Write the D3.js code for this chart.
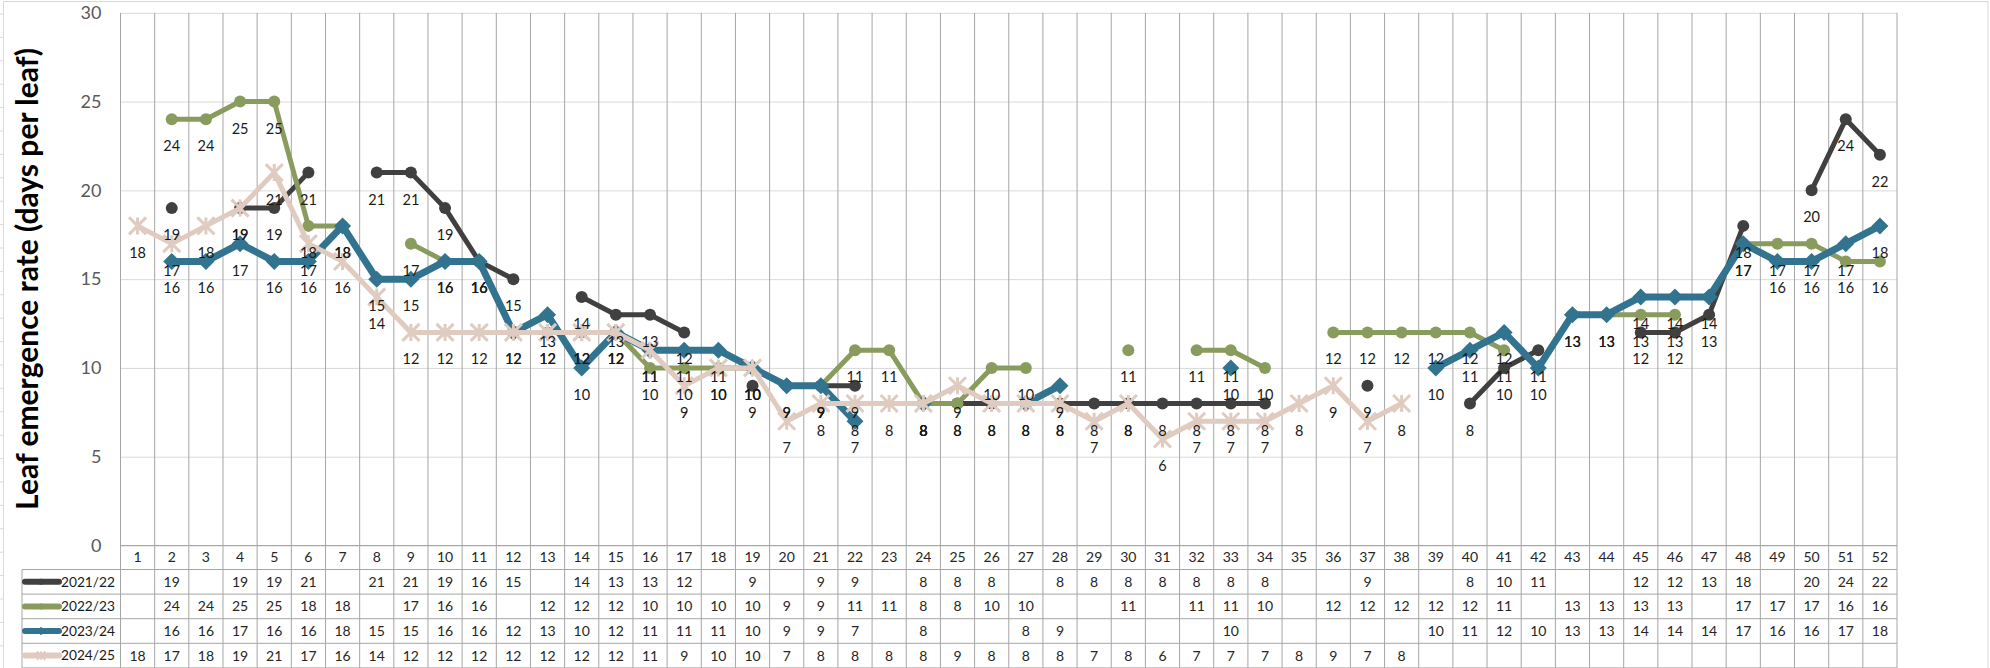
<!DOCTYPE html>
<html>
<head>
<meta charset="utf-8">
<script src="https://cdn.jsdelivr.net/npm/d3@7/dist/d3.min.js"></script>
<style>
  html, body { margin: 0; padding: 0; background: #fff; }
  svg { display: block; }
  text { font-family: Lato, "Open Sans", "Liberation Sans", sans-serif; }
</style>
</head>
<body>
<svg id="chart" width="1990" height="668"></svg>
<script>
// ---------------- DATA ----------------
const weeks = d3.range(1, 53);
const seriesNames = ["2021/22", "2022/23", "2023/24", "2024/25"];
const yTicks = [0, 5, 10, 15, 20, 25, 30];
const yTitle = "Leaf emergence rate (days per leaf)";
const _ = null;
const s2122 = [_,19,_,19,19,21,_,21,21,19,16,15,_,14,13,13,12,_,9,_,9,9,_,8,8,8,_,8,8,8,8,8,8,8,_,_,9,_,_,8,10,11,_,_,12,12,13,18,_,20,24,22];
const s2223 = [_,24,24,25,25,18,18,_,17,16,16,_,12,12,12,10,10,10,10,9,9,11,11,8,8,10,10,_,_,11,_,11,11,10,_,12,12,12,12,12,11,_,13,13,13,13,_,17,17,17,16,16];
const s2324 = [_,16,16,17,16,16,18,15,15,16,16,12,13,10,12,11,11,11,10,9,9,7,_,8,_,_,8,9,_,_,_,_,10,_,_,_,_,_,10,11,12,10,13,13,14,14,14,17,16,16,17,18];
const s2425 = [18,17,18,19,21,17,16,14,12,12,12,12,12,12,12,11,9,10,10,7,8,8,8,8,9,8,8,8,7,8,6,7,7,7,8,9,7,8,_,_,_,_,_,_,_,_,_,_,_,_,_,_];
const seriesValues = [s2122, s2223, s2324, s2425];

// ---------------- STYLE ----------------
const styles = [
  { color: "#404040", width: 5, marker: "circle", size: 6 },
  { color: "#8A9B5E", width: 5, marker: "circle", size: 6 },
  { color: "#32738F", width: 7, marker: "diamond", size: 8.5 },
  { color: "#DFCBC0", width: 5, marker: "star", size: 8.5 }
];

const svg = d3.select("#chart");
const plotL = 120.5, plotR = 1897, plotT = 12.8, plotB = 545.5;
const tableL = 22;
const catRowB = 569.5;
const rowH = 24.6;

const x = d3.scaleBand().domain(weeks).range([plotL, plotR]).padding(0);
const y = d3.scaleLinear().domain([0, 30]).range([plotB, plotT]);
const cx = w => x(w) + x.bandwidth() / 2;

// outer chart border
svg.append("rect").attr("x", 3.5).attr("y", 1.5).attr("width", 1984.5).attr("height", 720)
  .attr("fill", "none").attr("stroke", "#d9d9d9").attr("stroke-width", 1);
// spreadsheet cell gridline stubs at far left
svg.append("g").selectAll("line").data(d3.range(0, 29)).join("line")
  .attr("x1", 0).attr("x2", 3).attr("y1", k => 14 + 23.4 * k).attr("y2", k => 14 + 23.4 * k)
  .attr("stroke", "#d9d9d9");

// horizontal gridlines + y axis labels
const yAxis = d3.axisLeft(y).tickValues(yTicks).tickSize(-(plotR - plotL)).tickPadding(19).tickFormat(d3.format("d"));
const gy = svg.append("g").attr("transform", `translate(${plotL},0)`).call(yAxis);
gy.select(".domain").remove();
gy.selectAll(".tick line").attr("stroke", "#d9d9d9").attr("stroke-width", 1);
gy.selectAll(".tick text").attr("fill", "#595959").style("font-size", "18px").attr("font-family", "Lato, 'Open Sans', sans-serif");

// vertical category lines (plot + table)
const tableBottom = catRowB + rowH * 4;
const bounds = weeks.map(w => x(w)).concat([plotR]);
svg.append("g").selectAll("line").data(bounds).join("line")
  .attr("x1", d => d).attr("x2", d => d)
  .attr("y1", plotT).attr("y2", tableBottom + 2)
  .attr("stroke", "#a6a6a6").attr("stroke-width", 1);

// table horizontal lines
const gTable = svg.append("g");
gTable.append("line").attr("x1", plotL).attr("x2", plotR).attr("y1", plotB).attr("y2", plotB)
  .attr("stroke", "#a6a6a6");
for (let r = 0; r <= 4; r++) {
  const yy = catRowB + r * rowH;
  gTable.append("line").attr("x1", tableL).attr("x2", plotR).attr("y1", yy).attr("y2", yy)
    .attr("stroke", "#a6a6a6");
}
gTable.append("line").attr("x1", tableL).attr("x2", tableL).attr("y1", catRowB).attr("y2", tableBottom + 2)
  .attr("stroke", "#a6a6a6");

// category labels
svg.append("g").selectAll("text").data(weeks).join("text")
  .attr("x", d => cx(d)).attr("y", (plotB + catRowB) / 2)
  .attr("dy", "0.35em").attr("text-anchor", "middle")
  .attr("fill", "#262626").style("font-size", "14px").text(d => d);

// table values
seriesValues.forEach((vals, si) => {
  const rowCy = catRowB + rowH * si + rowH / 2;
  svg.append("g").selectAll("text").data(weeks.filter((w, i) => vals[i] != null)).join("text")
    .attr("x", d => cx(d)).attr("y", rowCy).attr("dy", "0.35em").attr("text-anchor", "middle")
    .attr("fill", "#262626").style("font-size", "14px").text(d => vals[d - 1]);
});

// marker drawing helper
function drawMarker(g, mx, my, st, scale) {
  const s = st.size * scale;
  if (st.marker === "circle") {
    g.append("circle").attr("cx", mx).attr("cy", my).attr("r", s).attr("fill", st.color);
  } else if (st.marker === "diamond") {
    g.append("path").attr("d", `M${mx},${my - s}L${mx + s},${my}L${mx},${my + s}L${mx - s},${my}Z`)
      .attr("fill", st.color);
  } else {
    g.append("path")
      .attr("d", `M${mx - s},${my - s}L${mx + s},${my + s}M${mx + s},${my - s}L${mx - s},${my + s}M${mx},${my - s}L${mx},${my + s}`)
      .attr("stroke", st.color).attr("stroke-width", 3 * Math.max(scale, 0.6)).attr("fill", "none");
  }
}

// legend keys in table
seriesNames.forEach((name, si) => {
  const st = styles[si];
  const rowCy = catRowB + rowH * si + rowH / 2;
  const g = svg.append("g");
  g.append("line").attr("x1", 25).attr("x2", 59).attr("y1", rowCy).attr("y2", rowCy)
    .attr("stroke", st.color).attr("stroke-width", 6).attr("stroke-linecap", "round");
  drawMarker(g, 41, rowCy, st, 0.5);
  const t = g.append("text").attr("x", 61).attr("y", rowCy).attr("dy", "0.35em")
    .attr("fill", "#1a1a1a").style("font-size", "16px").text(name);
  const tl = t.node().getComputedTextLength();
  t.style("font-size", (16 * 54 / tl).toFixed(2) + "px");
});

// series lines and markers
const line = d3.line().defined(d => d.v != null).x(d => cx(d.w)).y(d => y(d.v));
seriesValues.forEach((vals, si) => {
  const st = styles[si];
  const pts = weeks.map((w, i) => ({ w, v: vals[i] }));
  const g = svg.append("g");
  g.append("path").datum(pts).attr("d", line)
    .attr("fill", "none").attr("stroke", st.color).attr("stroke-width", st.width)
    .attr("stroke-linejoin", "round").attr("stroke-linecap", "round");
  pts.filter(p => p.v != null).forEach(p => drawMarker(g, cx(p.w), y(p.v), st, 1));
});

// data labels (below)
seriesValues.forEach((vals, si) => {
  svg.append("g").selectAll("text").data(weeks.filter((w, i) => vals[i] != null)).join("text")
    .attr("x", d => cx(d)).attr("y", d => y(vals[d - 1]) + 27).attr("dy", "0.35em")
    .attr("text-anchor", "middle").attr("fill", "#1a1a1a").style("font-size", "14.5px")
    .text(d => vals[d - 1]);
});

// y axis title
const title = svg.append("text")
  .attr("transform", `translate(38,279) rotate(-90)`)
  .attr("text-anchor", "middle").attr("fill", "#000")
  .style("font-size", "26px").style("font-weight", "bold").text(yTitle);
const len = title.node().getComputedTextLength();
title.style("font-size", (26 * 462 / len).toFixed(2) + "px");
</script>
</body>
</html>
